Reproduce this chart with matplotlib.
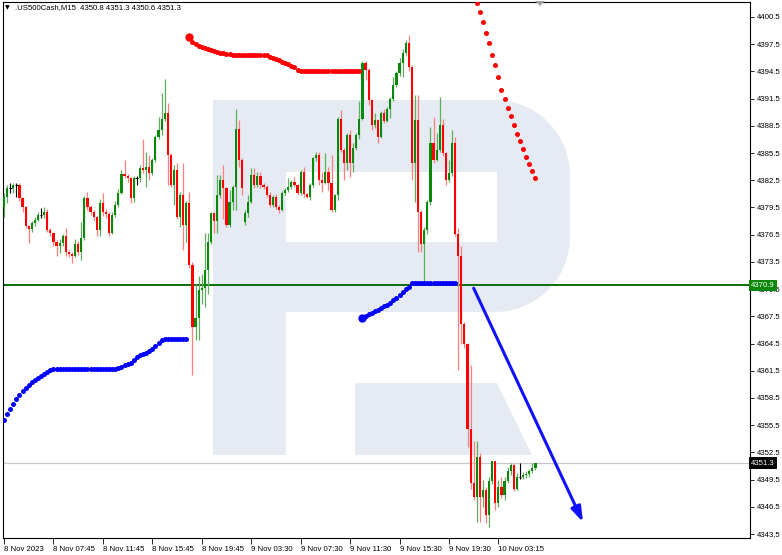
import matplotlib
matplotlib.use('Agg')
import matplotlib.pyplot as plt
from matplotlib.patches import Polygon, Rectangle
import numpy as np

plt.rcParams['font.family'] = ['Liberation Sans', 'DejaVu Sans']

# ---- data (M15 bars, oldest first) ----
symbol = '.US500Cash,M15'
last_ohlc = [4350.8, 4351.3, 4350.6, 4351.3]

opens = [4379.6, 4380.7, 4381.7, 4381.7, 4382.0, 4382.0, 4380.5, 4379.6, 4377.5, 4377.1,
         4377.8, 4378.1, 4378.7, 4378.7, 4379.0, 4377.0, 4376.7, 4375.7, 4375.2, 4375.6,
         4376.3, 4374.6, 4374.4, 4374.1, 4375.5, 4374.6, 4376.1, 4380.5, 4379.6, 4379.0,
         4378.5, 4377.0, 4380.0, 4379.0, 4378.8, 4376.7, 4378.7, 4379.8, 4381.1, 4383.2,
         4383.0, 4382.7, 4380.5, 4382.7, 4382.7, 4383.8, 4383.6, 4384.0, 4383.3, 4384.7,
         4387.3, 4388.0, 4389.3, 4389.9, 4385.3, 4382.0, 4383.6, 4378.5, 4380.9, 4377.6,
         4380.0, 4373.2, 4366.3, 4367.3, 4370.4, 4370.6, 4372.6, 4375.7, 4378.9, 4378.0,
         4380.9, 4382.5, 4381.6, 4377.6, 4380.1, 4381.8, 4388.2, 4384.7, 4377.9, 4378.9,
         4380.1, 4383.1, 4382.0, 4383.0, 4382.0, 4381.8, 4380.9, 4379.8, 4380.7, 4379.6,
         4379.2, 4381.1, 4381.4, 4381.8, 4382.3, 4382.0, 4381.1, 4383.4, 4381.0, 4380.7,
         4382.0, 4384.9, 4385.3, 4382.5, 4382.2, 4383.4, 4382.2, 4379.2, 4380.9, 4389.3,
         4385.8, 4384.4, 4387.5, 4384.4, 4386.0, 4387.5, 4389.3, 4395.4, 4394.7, 4391.4,
         4388.6, 4389.1, 4387.3, 4389.9, 4389.0, 4390.4, 4391.5, 4393.0, 4394.3, 4395.4,
         4396.5, 4397.6, 4395.0, 4384.4, 4389.1, 4379.0, 4375.5, 4377.0, 4380.1, 4386.6,
         4384.7, 4385.8, 4388.6, 4385.5, 4382.5, 4383.3, 4386.6, 4376.6, 4374.1, 4366.7,
         4364.5, 4355.1, 4349.1, 4347.6, 4352.0, 4347.6, 4348.3, 4345.6, 4349.3, 4351.5,
         4346.9, 4348.7, 4347.8, 4349.3, 4350.5, 4351.1, 4348.5, 4349.8, 4349.8, 4350.0,
         4350.1, 4350.5, 4350.8]
highs = [4381.1, 4382.0, 4382.2, 4382.2, 4382.2, 4382.2, 4380.6, 4379.7, 4377.6, 4378.0,
         4378.4, 4379.0, 4379.4, 4379.6, 4379.3, 4377.2, 4376.8, 4375.9, 4376.0, 4376.6,
         4377.2, 4374.8, 4374.6, 4376.0, 4375.8, 4377.9, 4380.8, 4381.2, 4379.8, 4379.2,
         4378.6, 4380.4, 4381.1, 4379.3, 4379.0, 4379.0, 4380.2, 4381.5, 4383.6, 4384.7,
         4383.2, 4382.9, 4383.0, 4383.0, 4384.2, 4387.1, 4385.6, 4385.3, 4384.9, 4387.5,
         4389.5, 4392.1, 4393.7, 4391.0, 4385.5, 4384.2, 4384.4, 4381.2, 4384.4, 4380.2,
         4381.2, 4373.5, 4371.1, 4371.9, 4372.2, 4376.7, 4376.7, 4379.0, 4379.0, 4383.1,
         4383.1, 4384.2, 4381.8, 4381.4, 4382.0, 4390.4, 4389.1, 4385.0, 4379.2, 4380.9,
         4383.8, 4383.8, 4383.4, 4383.4, 4382.2, 4382.0, 4381.2, 4380.9, 4381.0, 4379.8,
         4381.3, 4381.6, 4382.7, 4382.5, 4382.9, 4382.1, 4383.6, 4384.0, 4381.1, 4382.2,
         4385.1, 4385.6, 4385.6, 4383.4, 4385.5, 4384.0, 4385.3, 4381.0, 4389.5, 4390.2,
         4386.0, 4387.7, 4388.0, 4386.6, 4387.7, 4391.2, 4395.6, 4395.6, 4394.9, 4391.5,
         4389.9, 4389.3, 4390.1, 4390.3, 4390.6, 4391.7, 4393.9, 4394.5, 4396.0, 4397.0,
         4398.0, 4398.5, 4395.2, 4391.9, 4391.9, 4379.2, 4377.3, 4380.3, 4388.4, 4389.5,
         4387.7, 4391.7, 4389.3, 4385.6, 4384.7, 4388.0, 4387.3, 4377.2, 4375.2, 4366.9,
         4364.6, 4362.1, 4353.8, 4353.8, 4352.4, 4349.5, 4348.7, 4349.8, 4351.6, 4351.6,
         4349.4, 4349.8, 4349.8, 4350.9, 4351.3, 4351.2, 4350.2, 4351.3, 4350.3, 4350.5,
         4350.7, 4351.3, 4351.3]
lows = [4378.5, 4380.0, 4381.1, 4381.1, 4380.7, 4380.2, 4379.0, 4377.2, 4375.6, 4376.8,
        4377.5, 4378.0, 4378.3, 4378.3, 4376.8, 4376.3, 4375.2, 4374.1, 4374.5, 4375.2,
        4374.1, 4374.0, 4373.4, 4374.0, 4374.3, 4373.7, 4375.9, 4379.2, 4378.7, 4378.0,
        4376.4, 4376.3, 4378.6, 4378.3, 4376.3, 4376.6, 4378.5, 4379.6, 4381.0, 4382.8,
        4382.3, 4380.0, 4380.1, 4382.0, 4382.3, 4383.3, 4381.8, 4382.5, 4383.1, 4384.5,
        4387.0, 4387.5, 4389.0, 4382.0, 4381.8, 4379.8, 4378.2, 4377.4, 4374.8, 4375.7,
        4372.8, 4361.0, 4364.9, 4364.9, 4368.9, 4368.5, 4370.0, 4375.5, 4376.7, 4376.7,
        4380.5, 4378.2, 4377.4, 4377.3, 4379.2, 4379.2, 4384.0, 4380.9, 4377.6, 4378.5,
        4380.0, 4381.6, 4381.8, 4381.7, 4381.5, 4380.7, 4379.5, 4379.6, 4379.3, 4378.9,
        4379.1, 4380.9, 4381.2, 4381.5, 4381.8, 4380.9, 4380.9, 4380.7, 4380.5, 4380.3,
        4381.8, 4384.6, 4382.0, 4381.2, 4382.1, 4381.4, 4379.0, 4379.0, 4380.3, 4385.6,
        4382.5, 4383.6, 4382.9, 4383.4, 4385.8, 4387.0, 4389.1, 4393.5, 4390.8, 4388.0,
        4388.3, 4386.6, 4387.2, 4388.8, 4388.9, 4389.4, 4391.2, 4392.8, 4394.0, 4393.9,
        4396.3, 4394.5, 4382.5, 4380.1, 4374.6, 4374.6, 4370.9, 4376.6, 4379.8, 4384.4,
        4384.6, 4385.6, 4385.2, 4382.0, 4382.3, 4383.0, 4376.3, 4361.6, 4364.5, 4364.0,
        4353.1, 4348.5, 4347.2, 4344.8, 4344.8, 4346.5, 4344.7, 4344.3, 4349.0, 4346.1,
        4346.5, 4347.5, 4347.2, 4349.1, 4350.0, 4348.2, 4348.3, 4349.6, 4349.6, 4349.7,
        4349.8, 4350.2, 4350.6]
closes = [4380.7, 4381.7, 4381.7, 4382.0, 4382.0, 4380.5, 4379.6, 4377.5, 4377.1, 4377.8,
          4378.1, 4378.7, 4378.7, 4379.0, 4377.0, 4376.7, 4375.7, 4375.2, 4375.6, 4376.3,
          4374.6, 4374.4, 4374.1, 4375.5, 4374.6, 4376.1, 4380.5, 4379.6, 4379.0, 4378.5,
          4377.0, 4380.0, 4379.0, 4378.8, 4376.7, 4378.7, 4379.8, 4381.1, 4383.2, 4383.0,
          4382.7, 4380.5, 4382.7, 4382.7, 4383.8, 4383.6, 4384.0, 4383.3, 4384.7, 4387.3,
          4388.0, 4389.3, 4389.9, 4385.3, 4382.0, 4383.6, 4378.5, 4380.9, 4377.6, 4380.0,
          4373.2, 4366.3, 4367.3, 4370.4, 4370.6, 4372.6, 4375.7, 4378.9, 4378.0, 4380.9,
          4382.5, 4381.6, 4377.6, 4380.1, 4381.8, 4388.2, 4384.7, 4381.6, 4378.9, 4380.1,
          4383.1, 4382.0, 4383.0, 4382.0, 4381.8, 4380.9, 4379.8, 4380.7, 4379.6, 4379.2,
          4381.1, 4381.4, 4381.8, 4382.3, 4382.0, 4381.1, 4383.4, 4381.0, 4380.7, 4382.0,
          4384.9, 4385.3, 4382.5, 4382.2, 4383.4, 4382.2, 4379.2, 4380.9, 4389.3, 4385.8,
          4384.4, 4387.5, 4384.4, 4386.0, 4387.5, 4389.3, 4395.4, 4394.7, 4391.4, 4388.6,
          4389.1, 4387.3, 4389.9, 4389.0, 4390.4, 4391.5, 4393.0, 4394.3, 4395.4, 4396.5,
          4397.6, 4395.0, 4384.4, 4389.1, 4379.0, 4375.5, 4377.0, 4380.1, 4386.6, 4384.7,
          4385.8, 4388.6, 4385.5, 4382.5, 4383.3, 4386.6, 4376.6, 4374.1, 4366.7, 4364.5,
          4355.1, 4349.1, 4347.6, 4352.0, 4347.6, 4348.3, 4345.6, 4349.3, 4351.5, 4346.9,
          4348.7, 4347.8, 4349.3, 4350.5, 4351.1, 4348.5, 4349.8, 4349.8, 4350.0, 4350.1,
          4350.5, 4350.8, 4351.3]

# parabolic-style dot indicator, four visible runs (start bar, values)
sar_blue1_start = 0
sar_blue1 = [4356.07, 4356.73, 4357.28, 4357.83, 4358.38, 4358.82, 4359.26, 4359.60, 4359.93, 4360.26,
             4360.48, 4360.70, 4360.92, 4361.14, 4361.36, 4361.58] + [4361.66] * 21 + \
            [4361.80, 4361.91, 4362.13, 4362.24, 4362.35, 4362.68, 4363.01, 4363.23, 4363.29, 4363.45,
             4363.68, 4363.90, 4364.23, 4364.56, 4364.89] + [4365.00] * 8
sar_red1_start = 60
sar_red1 = [4398.30, 4397.74, 4397.47, 4397.30, 4397.19, 4397.08, 4396.97, 4396.86, 4396.75, 4396.64,
            4396.53, 4396.48, 4396.42, 4396.37, 4396.31] + [4396.26] * 11 + \
           [4396.14, 4396.03, 4395.87, 4395.76, 4395.59, 4395.43, 4395.26, 4395.10, 4394.99, 4394.60] + \
           [4394.55] * 20
sar_blue2_start = 116
sar_blue2 = [4367.31, 4367.53, 4367.70, 4367.86, 4368.03, 4368.19, 4368.41, 4368.63, 4368.80, 4369.02,
             4369.30, 4369.52, 4369.85, 4370.18, 4370.51, 4370.73] + [4371.12] * 15
sar_red2_start = 153
sar_red2 = [4402.04, 4401.05, 4399.95, 4398.70, 4397.60, 4396.28, 4395.24, 4393.92, 4392.42, 4391.46,
            4390.43, 4389.59, 4388.56, 4387.57, 4386.80, 4385.95, 4385.06, 4384.33, 4383.55, 4382.78]

level_price = 4370.9
bid_price = 4351.3
arrow_start = (152.0, 4370.6)
arrow_end = (187.4, 4344.8)

time_labels = ['8 Nov 2023', '8 Nov 07:45', '8 Nov 11:45', '8 Nov 15:45', '8 Nov 19:45',
               '9 Nov 03:30', '9 Nov 07:30', '9 Nov 11:30', '9 Nov 15:30', '9 Nov 19:30',
               '10 Nov 03:15']
label_every = 16
price_ticks = [4343.5 + 3 * k for k in range(20)]

# ---- layout (pixel based) ----
W, H = 782, 555
fig = plt.figure(figsize=(W / 100, H / 100), dpi=100)
fig.patch.set_facecolor('white')

# watermark logo behind everything
bg = fig.add_axes([0, 0, 1, 1])
bg.set_xlim(0, W)
bg.set_ylim(H, 0)
bg.axis('off')
wm = '#e6ebf3'
r = 75
t1 = np.linspace(-np.pi / 2, 0, 20)
t2 = np.linspace(0, np.pi / 2, 20)
outline = [(213, 100)] + [(495 + r * np.cos(t), 175 + r * np.sin(t)) for t in t1] + \
          [(495 + r * np.cos(t), 237 + r * np.sin(t)) for t in t2] + \
          [(286, 312), (286, 455), (213, 455)]
bg.add_patch(Polygon(outline, closed=True, fc=wm, ec='none'))
bg.add_patch(Rectangle((286, 172), 211, 70, fc='white', ec='none'))
bg.add_patch(Polygon([(355, 383), (497, 383), (532, 455), (355, 455)], closed=True, fc=wm, ec='none'))

ax = fig.add_axes([3 / W, 1 - 538 / H, 747 / W, 536 / H])
ax.set_zorder(1)
ax.patch.set_alpha(0)

px_bar = 3.09
ax.set_xlim(-1 / px_bar, 746 / px_bar)
ax.set_ylim(4343.06, 4402.15)

# level lines
ax.axhline(level_price, color='#0a6e0a', lw=1.4, zorder=2)
ax.axhline(bid_price, color='#c8c8c8', lw=0.9, zorder=1)

# candles
o = np.array(opens)
h = np.array(highs)
l = np.array(lows)
c = np.array(closes)
x = np.arange(len(c))
up = c > o
dn = c < o
dj = c == o
ax.vlines(x[up], l[up], h[up], color='#5fae5f', lw=0.9, zorder=3)
ax.vlines(x[dn], l[dn], h[dn], color='#ff7f7f', lw=0.9, zorder=3)
ax.vlines(x[dj], l[dj], h[dj], color='#000000', lw=0.8, zorder=3)
ax.bar(x[up], c[up] - o[up], bottom=o[up], width=0.7, color='#0b870b', lw=0, zorder=4)
ax.bar(x[dn], c[dn] - o[dn], bottom=o[dn], width=0.7, color='#ff0000', lw=0, zorder=4)
ax.hlines(c[dj], x[dj] - 0.45, x[dj] + 0.45, color='#000000', lw=0.8, zorder=4)

# dot indicator
for start, vals, col in [(sar_blue1_start, sar_blue1, '#0000ff'), (sar_red1_start, sar_red1, '#ff0000'),
                         (sar_blue2_start, sar_blue2, '#0000ff'), (sar_red2_start, sar_red2, '#ff0000')]:
    xs = np.arange(start, start + len(vals))
    ax.plot(xs, vals, ls='none', marker='o', ms=3.6, color=col, mew=0, zorder=5, clip_on=True)
ax.plot(sar_red1_start, sar_red1[0], marker='o', ms=6, color='#ff0000', mew=0, zorder=5)
ax.plot(sar_blue2_start, sar_blue2[0], marker='o', ms=6, color='#0000ff', mew=0, zorder=5)

# forecast arrow
ax.annotate('', xy=arrow_end, xytext=arrow_start,
            arrowprops=dict(arrowstyle='-|>,head_length=0.9,head_width=0.3', color='#1010ff',
                            lw=2.2, shrinkA=0, shrinkB=0), zorder=6)

# axes / ticks
for s in ax.spines.values():
    s.set_color('#000000')
    s.set_linewidth(0.8)
ax.yaxis.tick_right()
ax.set_yticks(price_ticks)
ax.set_yticklabels(['%.1f' % p for p in price_ticks])
ax.tick_params(axis='y', direction='out', length=3, width=0.6, pad=2, labelsize=5.6, colors='#000000')
ax.set_xticks(np.arange(len(time_labels)) * label_every)
ax.set_xticklabels(time_labels)
for lab in ax.get_xticklabels():
    lab.set_horizontalalignment('left')
ax.tick_params(axis='x', direction='out', length=4, width=0.6, pad=1.5, labelsize=5.6, colors='#000000')

# price tags on the right scale
ytf = ax.get_yaxis_transform()
ax.text(1.0015, level_price, '%.1f' % level_price, transform=ytf, ha='left', va='center',
        fontsize=5.6, color='white', zorder=10,
        bbox=dict(boxstyle='square,pad=0.3', fc='#0b870b', ec='none'))
ax.text(1.0015, bid_price, '%.1f' % bid_price, transform=ytf, ha='left', va='center',
        fontsize=5.6, color='white', zorder=10,
        bbox=dict(boxstyle='square,pad=0.3', fc='#000000', ec='none'))

# header
fig.text(5 / W, 1 - 8 / H, '\u25bc', family='DejaVu Sans', fontsize=4.5, va='center', ha='left')
fig.text(15 / W, 1 - 8 / H, '%s  %s' % (symbol, ' '.join('%.1f' % v for v in last_ohlc)),
         fontsize=5.6, va='center', ha='left', color='#000000')

# chart-shift marker at the top
fig.patches.append(Polygon([(535 / W, 1 - 1 / H), (545 / W, 1 - 1 / H), (540 / W, 1 - 6 / H)],
                           closed=True, fc='#a0a0a0', ec='none', transform=fig.transFigure, figure=fig))

fig.savefig('out.png', dpi=100)
